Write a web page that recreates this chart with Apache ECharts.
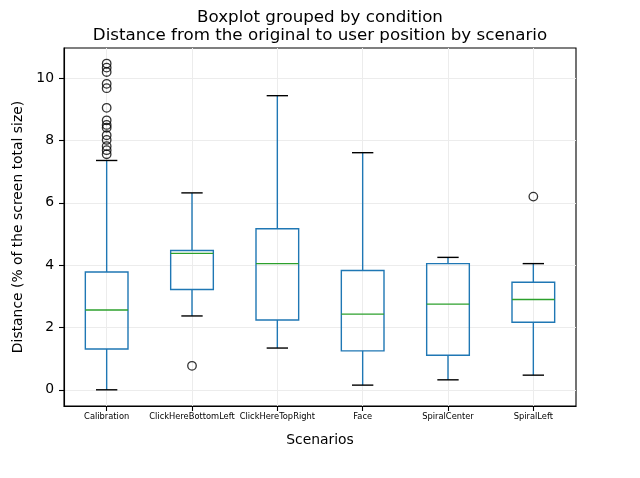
<!DOCTYPE html>
<html>
<head>
<meta charset="utf-8">
<script src="https://cdn.jsdelivr.net/npm/echarts@6/dist/echarts.min.js"></script>
<style>
html,body{margin:0;padding:0;background:#fff;}
#chart{width:640px;height:478px;}
</style>
</head>
<body>
<div id="chart"></div>
<script>
// data
var scenarios = ['Calibration','ClickHereBottomLeft','ClickHereTopRight','Face','SpiralCenter','SpiralLeft'];
var whiskerLow  = [0.00, 2.37, 1.34, 0.15, 0.32, 0.47];
var q1          = [1.31, 3.22, 2.24, 1.25, 1.11, 2.17];
var median      = [2.56, 4.38, 4.05, 2.43, 2.75, 2.90];
var q3          = [3.78, 4.47, 5.17, 3.83, 4.05, 3.45];
var whiskerHigh = [7.36, 6.32, 9.44, 7.61, 4.25, 4.05];
// outliers: [scenario index (1-based), value]
var outliers = [
	[1,10.47],[1,10.34],[1,10.20],[1,9.82],[1,9.68],[1,9.05],
	[1,8.65],[1,8.50],[1,8.41],[1,8.17],[1,8.02],[1,7.82],[1,7.69],[1,7.56],
	[2,0.77],
	[6,6.20]
];
var yTicks = [0,2,4,6,8,10];
var xTicks = [1,2,3,4,5,6];

var font = 'DejaVu Sans';
var boxData = [];
for(var i=0;i<scenarios.length;i++){
	boxData.push([i+1, whiskerLow[i], q1[i], median[i], q3[i], whiskerHigh[i]]);
}

function renderBox(params, api){
	var x = api.value(0);
	var lo = api.coord([x, api.value(1)]);
	var b1 = api.coord([x, api.value(2)]);
	var md = api.coord([x, api.value(3)]);
	var b3 = api.coord([x, api.value(4)]);
	var hi = api.coord([x, api.value(5)]);
	var w = api.size([1, 0])[0] * 0.5;
	var cx = lo[0];
	var lw = 1.4;
	var blue = {stroke:'#1f77b4', lineWidth:lw};
	var black = {stroke:'#000', lineWidth:lw};
	return {
		type:'group',
		children:[
			{type:'line', shape:{x1:cx,y1:b3[1],x2:cx,y2:hi[1]}, style:blue},
			{type:'line', shape:{x1:cx,y1:b1[1],x2:cx,y2:lo[1]}, style:blue},
			{type:'line', shape:{x1:cx-w/4,y1:hi[1],x2:cx+w/4,y2:hi[1]}, style:black},
			{type:'line', shape:{x1:cx-w/4,y1:lo[1],x2:cx+w/4,y2:lo[1]}, style:black},
			{type:'rect', shape:{x:cx-w/2,y:b3[1],width:w,height:b1[1]-b3[1]}, style:{stroke:'#1f77b4',lineWidth:lw,fill:'none'}},
			{type:'line', shape:{x1:cx-w/2,y1:md[1],x2:cx+w/2,y2:md[1]}, style:{stroke:'#2ca02c',lineWidth:lw}}
		]
	};
}

var chart = echarts.init(document.getElementById('chart'));
var option = {
	animation:false,
	title:{
		text:'Boxplot grouped by condition\nDistance from the original to user position by scenario',
		left:'center',
		top:4,
		textStyle:{fontFamily:font, fontSize:16.7, fontWeight:'normal', color:'#000', lineHeight:17.5}
	},
	grid:{
		left:64, right:64, top:48, bottom:72,
		show:true, borderColor:'#000', borderWidth:1.1
	},
	xAxis:{
		type:'value',
		min:0.5, max:6.5,
		name:'Scenarios',
		nameLocation:'middle',
		nameGap:27,
		nameTextStyle:{fontFamily:font, fontSize:13.9, color:'#000'},
		axisLine:{show:true, onZero:false, lineStyle:{color:'#000', width:1.1}},
		axisTick:{show:true, customValues:xTicks, length:5, lineStyle:{color:'#000', width:1.1}},
		axisLabel:{
			customValues:xTicks,
			fontFamily:font, fontSize:8.3, color:'#000', margin:7,
			formatter:function(v){ return scenarios[Math.round(v)-1] || ''; }
		},
		splitLine:{show:true, customValues:xTicks, lineStyle:{color:'#ececec', width:1}}
	},
	yAxis:{
		type:'value',
		min:-0.52, max:10.97,
		name:'Distance (% of the screen total size)',
		nameLocation:'middle',
		nameGap:39,
		nameTextStyle:{fontFamily:font, fontSize:13.9, color:'#000'},
		axisLine:{show:true, onZero:false, lineStyle:{color:'#000', width:1.1}},
		axisTick:{show:true, customValues:yTicks, length:5, lineStyle:{color:'#000', width:1.1}},
		axisLabel:{customValues:yTicks, fontFamily:font, fontSize:13.9, color:'#000', margin:10},
		splitLine:{show:true, customValues:yTicks, lineStyle:{color:'#ececec', width:1}}
	},
	series:[
		{
			type:'custom',
			renderItem:renderBox,
			data:boxData,
			encode:{x:0, y:[1,2,3,4,5]}
		},
		{
			type:'scatter',
			data:outliers,
			symbol:'circle',
			symbolSize:8.5,
			itemStyle:{color:'rgba(0,0,0,0)', borderColor:'#000', borderWidth:1.3}
		}
	]
};
chart.setOption(option);
</script>
</body>
</html>
